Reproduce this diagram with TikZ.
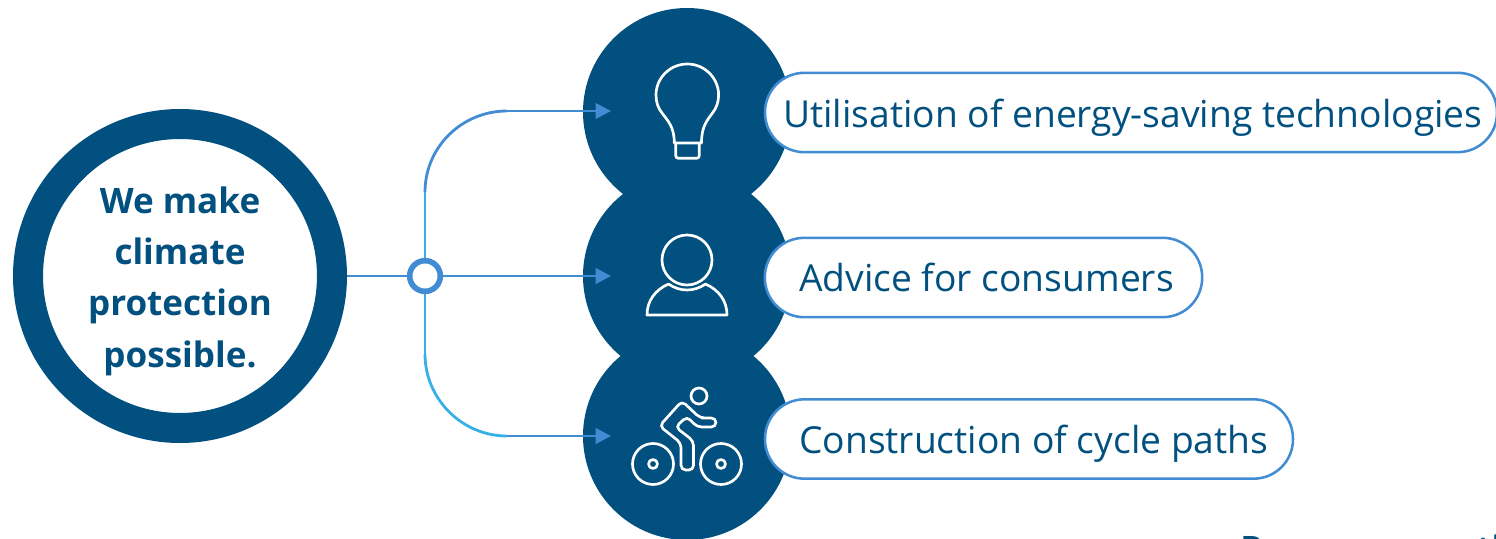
\documentclass[tikz,border=0pt]{standalone}
\usepackage{fontspec}
\setmainfont{Open Sans}
\usetikzlibrary{arrows.meta}
\definecolor{navy}{HTML}{01507F}
\definecolor{midblue}{HTML}{418CD3}
\definecolor{skyblue}{HTML}{36B0E6}
\tikzset{
  x=0.75pt,y=-0.75pt,
  disc/.style={circle,fill=navy,draw=none,minimum size=156pt,inner sep=0pt},
  pill/.style={draw=midblue,line width=1.9pt,fill=white,rounded corners=29.5pt,minimum height=59.5pt,inner sep=0pt},
  pilltext/.style={anchor=base west,inner sep=0pt,text=navy,font=\fontsize{27.9}{30}\selectfont},
  link/.style={line width=2.1pt,draw=midblue},
  linksky/.style={line width=2.1pt,draw=skyblue},
  tip/.style={-{Triangle[length=11.5pt,width=11.5pt]}},
  icon/.style={draw=white,line width=2pt,line join=round,line cap=round},
  boldtext/.style={text=navy,font=\fontsize{26.3}{38.5}\selectfont\bfseries},
}
\begin{document}
\begin{tikzpicture}
\useasboundingbox (0,0) rectangle (1496,539);
\clip (0,0) rectangle (1496,539);
\node[disc] (d1) at (687,112) {};
\node[disc] (d2) at (687,276) {};
\node[disc] (d3) at (687,436) {};
\node[circle,draw=navy,line width=22.5pt,fill=white,minimum size=228pt,inner sep=0pt] (main) at (180,276) {};
\node[boldtext,align=center,inner sep=0pt] (mainlabel) at (180,281) {We make\\climate\\protection\\possible.};
\coordinate (t1) at (611,111);
\coordinate (t2) at (611,276);
\coordinate (t3) at (611,436);
\coordinate (a1) at (425,192);
\coordinate (b1) at (507,111);
\coordinate (a3) at (425,354);
\coordinate (b3) at (507,436);
\node[circle,draw=midblue,line width=4.2pt,fill=white,minimum size=23pt,inner sep=0pt] (hub) at (425,276) {};
\draw[linksky] (hub) -- (a1);
\draw[linksky] (hub) -- (a3);
\draw[link] (a1) .. controls (425,147) and (462,111) .. (b1);
\draw[linksky] (a3) .. controls (425,399) and (462,436) .. (b3);
\draw[link,tip] (b1) -- (t1);
\draw[link,tip] (b3) -- (t3);
\draw[link] (main) -- (hub);
\draw[link,tip] (hub) -- (t2);
% pills
\node[pill,minimum width=549pt] (p1) at (1131,112.5) {};
\node[pill,minimum width=328pt] (p2) at (983.5,277.5) {};
\node[pill,minimum width=396pt] (p3) at (1029,439) {};
\node[pilltext] (l1) at (783,127) {Utilisation of energy-saving technologies};
\node[pilltext] (l2) at (799,291) {Advice for consumers};
\node[pilltext] (l3) at (799,453) {Construction of cycle paths};
% bulb
\draw[icon] (674.3,143) .. controls (674.3,127) and (668,121) .. (662,113) .. controls (658,108) and (656,102) .. (656,95) .. controls (656,78) and (670,64) .. (687.3,64) .. controls (704.5,64) and (718.6,78) .. (718.6,95) .. controls (718.6,102) and (716.5,108) .. (712.5,113) .. controls (706.5,121) and (701.5,127) .. (701.5,143) -- cycle;
\draw[icon,rounded corners=2pt] (675.7,143) -- (675.7,158.3) -- (699.3,158.3) -- (699.3,143);
% person
\draw[icon] (687,260) circle (25);
\draw[icon,line cap=butt] (647,315) .. controls (647,301) and (655,290) .. (668.5,284) .. controls (680,292) and (694,292) .. (705.5,284) .. controls (719,290) and (727,301) .. (727,315) -- cycle;
% cyclist
\draw[icon] (699,396) circle (8);
\draw[icon] (653,464) circle (20.5);
\draw[icon] (721,464) circle (20.5);
\draw[icon] (653,464) circle (4.5);
\draw[icon] (721,464) circle (4.5);
\draw[icon,rounded corners=3.5pt] (706,418) -- (716,418) -- (716,427) -- (697,427) -- (687,416.5) -- (675.5,427) -- (693.5,441) -- (693.5,470) -- (681,470) -- (681,443) -- (659.5,426) -- (682,401) -- (700,418) -- cycle;
% text cut off by the lower edge
\node[anchor=base west,inner sep=0pt,text=navy,font=\fontsize{26.3}{30}\selectfont\bfseries] (cut1) at (1240,561.5) {R};
\node[anchor=base west,inner sep=0pt,text=navy,font=\fontsize{26.3}{30}\selectfont\bfseries] (cut2) at (1476,561.5) {th};
\end{tikzpicture}
\end{document}
